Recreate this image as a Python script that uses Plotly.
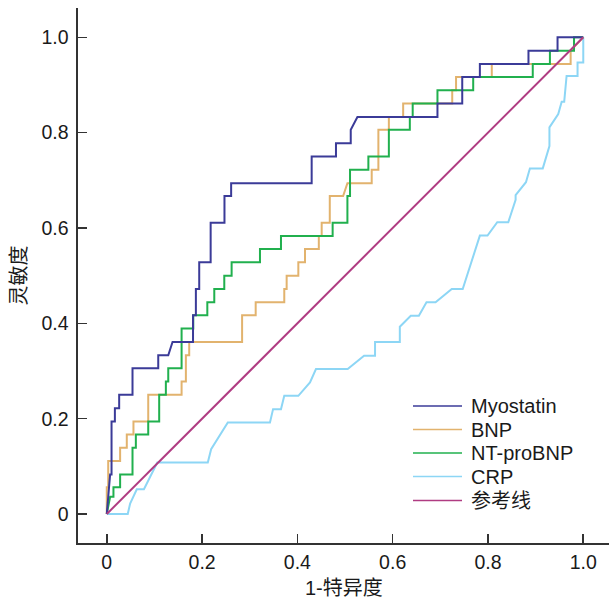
import plotly.graph_objects as go

# ---- data ----
series_names = ["Myostatin", "BNP", "NT-proBNP", "CRP", "参考线"]
series_colors = ["#3b3b98", "#e2b36e", "#21b04e", "#8dd6f5", "#b03c82"]

myostatin_fpr = [0, 0.007, 0.010, 0.010, 0.017, 0.017, 0.026, 0.026, 0.054, 0.054, 0.108, 0.108,
                 0.129, 0.138, 0.181, 0.181, 0.187, 0.187, 0.194, 0.194, 0.218, 0.218, 0.247, 0.247,
                 0.261, 0.261, 0.430, 0.430, 0.481, 0.481, 0.512, 0.512, 0.526, 0.694, 0.694, 0.746,
                 0.746, 0.783, 0.783, 0.885, 0.885, 0.946, 0.946, 1.0]
myostatin_tpr = [0, 0.083, 0.083, 0.194, 0.194, 0.222, 0.222, 0.250, 0.250, 0.306, 0.306, 0.333,
                 0.333, 0.361, 0.361, 0.417, 0.417, 0.472, 0.472, 0.528, 0.528, 0.611, 0.611, 0.667,
                 0.667, 0.694, 0.694, 0.750, 0.750, 0.778, 0.778, 0.806, 0.833, 0.833, 0.861, 0.861,
                 0.917, 0.917, 0.944, 0.944, 0.972, 0.972, 1.0, 1.0]

bnp_fpr = [0, 0, 0.003, 0.003, 0.028, 0.028, 0.042, 0.042, 0.056, 0.056, 0.087, 0.087, 0.157, 0.157,
           0.166, 0.166, 0.173, 0.173, 0.284, 0.284, 0.3125, 0.3125, 0.3725, 0.3725, 0.3775, 0.3775,
           0.402, 0.402, 0.416, 0.416, 0.445, 0.445, 0.451, 0.451, 0.468, 0.468, 0.496, 0.505, 0.556,
           0.556, 0.570, 0.570, 0.592, 0.592, 0.622, 0.622, 0.725, 0.725, 0.733, 0.733, 0.808, 0.808,
           0.9735, 0.9735, 1.0]
bnp_tpr = [0, 0.056, 0.056, 0.111, 0.111, 0.139, 0.139, 0.167, 0.167, 0.194, 0.194, 0.250, 0.250, 0.278,
           0.278, 0.333, 0.333, 0.361, 0.361, 0.417, 0.417, 0.444, 0.444, 0.472, 0.472, 0.500,
           0.500, 0.528, 0.528, 0.556, 0.556, 0.583, 0.583, 0.611, 0.611, 0.667, 0.667, 0.694, 0.694,
           0.722, 0.722, 0.806, 0.806, 0.833, 0.833, 0.861, 0.861, 0.889, 0.889, 0.917, 0.917, 0.944,
           0.944, 0.972, 1.0]

ntprobnp_fpr = [0, 0.007, 0.014, 0.014, 0.028, 0.028, 0.054, 0.054, 0.061, 0.061, 0.087, 0.087, 0.110,
                0.110, 0.124, 0.124, 0.129, 0.129, 0.157, 0.157, 0.1815, 0.1815, 0.211, 0.211, 0.2256,
                0.2256, 0.2466, 0.2466, 0.262, 0.262, 0.3215, 0.3215, 0.3656, 0.3656, 0.474, 0.474,
                0.505, 0.505, 0.5105, 0.5105, 0.549, 0.549, 0.592, 0.592, 0.636, 0.636, 0.642, 0.642,
                0.694, 0.694, 0.769, 0.769, 0.894, 0.894, 0.930, 0.930, 0.9806, 0.9806, 1.0]
ntprobnp_tpr = [0, 0.036, 0.036, 0.056, 0.056, 0.083, 0.083, 0.139, 0.139, 0.167, 0.167, 0.194, 0.194,
                0.250, 0.250, 0.278, 0.278, 0.306, 0.306, 0.389, 0.389, 0.417, 0.417, 0.444, 0.444,
                0.472, 0.472, 0.500, 0.500, 0.528, 0.528, 0.556, 0.556, 0.583, 0.583, 0.611,
                0.611, 0.667, 0.667, 0.722, 0.722, 0.750, 0.750, 0.806, 0.806, 0.833, 0.833, 0.861,
                0.861, 0.889, 0.889, 0.917, 0.917, 0.944, 0.944, 0.972, 0.972, 1.0, 1.0]

crp_fpr = [0, 0.044, 0.049, 0.063, 0.078, 0.106, 0.212, 0.219, 0.254, 0.3425, 0.349, 0.3656, 0.3725,
           0.402, 0.4265, 0.439, 0.5056, 0.540, 0.563, 0.563, 0.615, 0.615, 0.638, 0.655, 0.671,
           0.690, 0.724, 0.747, 0.783, 0.799, 0.8195, 0.8426, 0.858, 0.858, 0.8797, 0.888, 0.915,
           0.929, 0.929, 0.9475, 0.9547, 0.960, 0.965, 0.988, 0.988, 1.0, 1.0]
crp_tpr = [0, 0, 0.022, 0.052, 0.052, 0.108, 0.108, 0.136, 0.192, 0.192, 0.220, 0.220, 0.248,
           0.248, 0.276, 0.304, 0.304, 0.332, 0.332, 0.361, 0.361, 0.393, 0.416, 0.416, 0.444,
           0.444, 0.472, 0.472, 0.584, 0.584, 0.612, 0.612, 0.659, 0.669, 0.696, 0.725, 0.725,
           0.772, 0.811, 0.839, 0.865, 0.865, 0.919, 0.919, 0.947, 0.947, 1.0]

ref_fpr = [0, 1]
ref_tpr = [0, 1]

tick_vals = [0, 0.2, 0.4, 0.6, 0.8, 1.0]
tick_text = ["0", "0.2", "0.4", "0.6", "0.8", "1.0"]

x_title = "1-特异度"
y_title = "灵敏度"

# ---- figure ----
FONT = "Liberation Sans, Arial, Noto Sans CJK SC, sans-serif"
W, H = 609, 601
ML, MR, MT, MB = 78, 0, 8, 58

xs = [myostatin_fpr, bnp_fpr, ntprobnp_fpr, crp_fpr, ref_fpr]
ys = [myostatin_tpr, bnp_tpr, ntprobnp_tpr, crp_tpr, ref_tpr]

fig = go.Figure()
draw_order = [3, 1, 2, 0, 4]
for i in draw_order:
    fig.add_trace(go.Scatter(x=xs[i], y=ys[i], mode="lines", name=series_names[i],
                             line=dict(color=series_colors[i], width=2), showlegend=False,
                             hoverinfo="skip"))

axis_common = dict(
    showgrid=False, zeroline=False, showline=True, linecolor="#333333", linewidth=1.6,
    ticks="inside", ticklen=9, tickwidth=1.6, tickcolor="#333333",
    tickvals=tick_vals, ticktext=tick_text, automargin=False,
    tickfont=dict(family=FONT, size=19.5, color="#1a1a1a"),
)

fig.update_xaxes(range=[-0.0604, 1.054], ticklabelstandoff=1, **axis_common)
fig.update_yaxes(range=[-0.0608, 1.0615], ticklabelstandoff=4, **axis_common)

plot_w = W - ML - MR
plot_h = H - MT - MB

# axis titles as annotations (positioned as in the reference)
fig.add_annotation(xref="paper", yref="paper", x=0.5, y=(H - MB - 588) / plot_h,
                   text=x_title, showarrow=False, xanchor="center", yanchor="middle",
                   font=dict(family=FONT, size=20, color="#1a1a1a"))
fig.add_annotation(xref="paper", yref="paper", x=(18 - ML) / plot_w, y=0.5,
                   text=y_title, showarrow=False, xanchor="center", yanchor="middle",
                   textangle=-90, font=dict(family=FONT, size=20, color="#1a1a1a"))

# custom legend (lower right), built from the series lists
leg_line_x0, leg_line_x1, leg_text_x = 413, 462, 469
leg_rows = [406, 429.5, 453, 476.5, 500.5]
for name, color, py in zip(series_names, series_colors, leg_rows):
    yp = (H - MB - py) / plot_h
    fig.add_shape(type="line", xref="paper", yref="paper",
                  x0=(leg_line_x0 - ML) / plot_w, x1=(leg_line_x1 - ML) / plot_w, y0=yp, y1=yp,
                  line=dict(color=color, width=1.6))
    fig.add_annotation(xref="paper", yref="paper", x=(leg_text_x - ML) / plot_w, y=yp,
                       text=name, showarrow=False, xanchor="left", yanchor="middle",
                       font=dict(family=FONT, size=20, color="#1a1a1a"))

fig.update_layout(
    width=W, height=H, autosize=False,
    margin=dict(l=ML, r=MR, t=MT, b=MB, pad=0),
    plot_bgcolor="white", paper_bgcolor="white",
    showlegend=False,
)

fig.write_html(
    "out.html",
    config={"displayModeBar": False, "staticPlot": True},
    post_script="document.body.style.margin='0';document.body.style.overflow='hidden';",
)
